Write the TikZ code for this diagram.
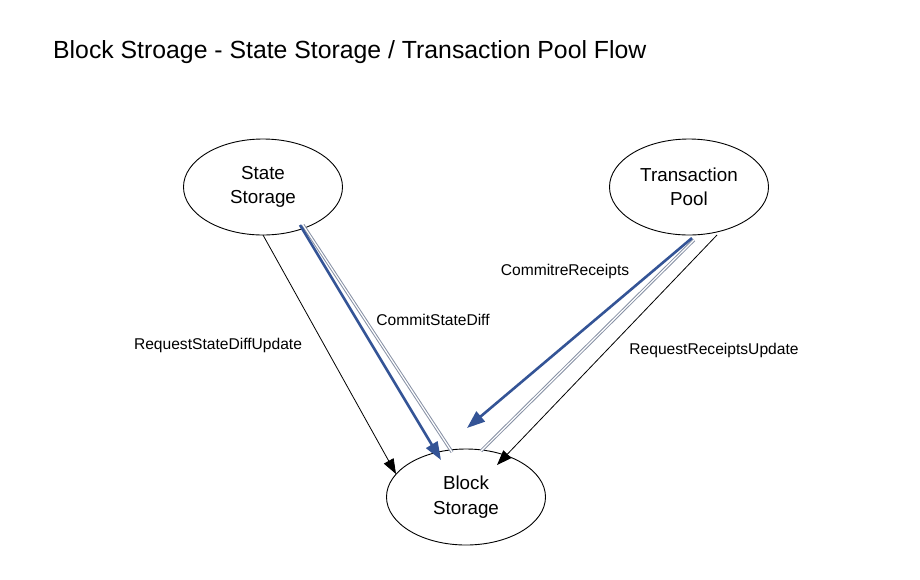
\documentclass[tikz,border=0pt]{standalone}
\usepackage{fontspec}
\setmainfont{Liberation Sans}
\usetikzlibrary{arrows.meta,shapes.geometric}
\definecolor{flowblue}{RGB}{52,84,150}
\definecolor{flowgray}{RGB}{135,145,165}
\begin{document}
\begin{tikzpicture}[x=1pt,y=-1pt,
  store/.style={draw,ellipse,minimum width=159pt,minimum height=96pt,align=center,font=\fontsize{18.8}{24.5}\selectfont,line width=0.9pt},
  blackflow/.style={draw,line width=0.8pt,-{Triangle[length=15pt,width=11pt]}},
  blueflow/.style={draw=flowblue,line width=2.6pt,-{Triangle[length=18pt,width=13pt]}},
  grayflow/.style={draw=flowgray,double=white,double distance=1.2pt,line width=1pt},
  lbl/.style={font=\fontsize{15.6}{18}\selectfont,inner sep=0pt}]
\useasboundingbox (0,0) rectangle (920,579);
\node[anchor=base west,font=\fontsize{24.8}{30}\selectfont,inner sep=0pt] (title) at (53,58) {Block Stroage - State Storage / Transaction Pool Flow};
\node[store] (ss) at (263,187) {State\\Storage};
\node[store] (tp) at (689,187) {Transaction\\Pool};
\node[store] (bs) at (466,497) {Block\\Storage};
\coordinate (ssa) at (263,235);
\coordinate (ssb) at (300,225);
\coordinate (ssc) at (303,225);
\coordinate (bsa) at (396,474);
\coordinate (bsb) at (441,460);
\coordinate (bsc) at (452,452);
\coordinate (tpa) at (692,238);
\coordinate (tpb) at (694,240);
\coordinate (tpc) at (717,235);
\coordinate (bsd) at (467,428);
\coordinate (bse) at (481,451);
\coordinate (bsf) at (497,465);
\draw[blackflow] (ssa) -- (bsa);
\draw[grayflow] (ssc) -- (bsc);
\draw[blueflow] (ssb) -- (bsb);
\draw[grayflow] (tpb) -- (bse);
\draw[blueflow] (tpa) -- (bsd);
\draw[blackflow] (tpc) -- (bsf);
\node[lbl] (l1) at (218,345) {RequestStateDiffUpdate};
\node[lbl] (l2) at (433,320) {CommitStateDiff};
\node[lbl] (l3) at (565,271) {CommitreReceipts};
\node[lbl] (l4) at (714,350) {RequestReceiptsUpdate};
\end{tikzpicture}
\end{document}
